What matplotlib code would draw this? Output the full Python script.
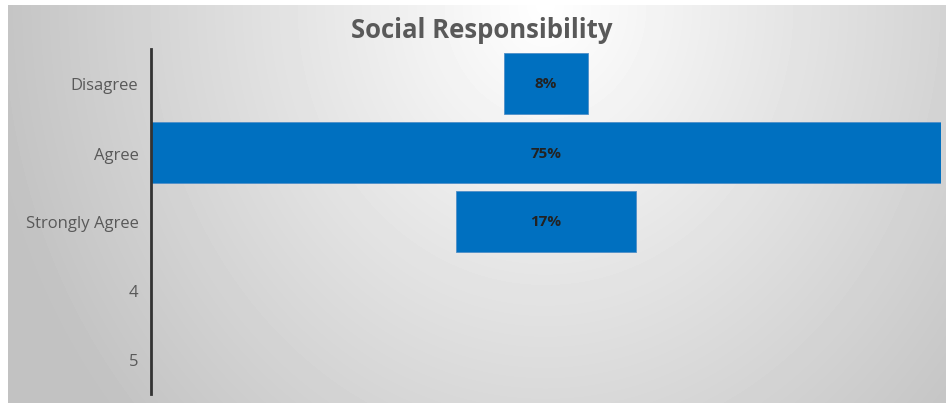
import numpy as np
import matplotlib.pyplot as plt

plt.rcParams['font.family'] = ['Open Sans', 'DejaVu Sans']

categories = ['Disagree', 'Agree', 'Strongly Agree', '4', '5']
values = [8, 75, 17, None, None]
labels = ['8%', '75%', '17%']

fig = plt.figure(figsize=(9.48, 4.06), dpi=100, facecolor='white')

# gradient background panel
bg = fig.add_axes([8/948, 2/406, 938/948, 398/406])
yy, xx = np.mgrid[0:398, 0:938]
d = np.sqrt(((xx - 537) / 2350) ** 2 + (yy / 2650) ** 2)
shade = np.clip(1.0 - d, 0.76, 1.0)
bg.imshow(shade, cmap='gray', vmin=0, vmax=1, aspect='auto', extent=[0, 1, 0, 1])
bg.axis('off')

ax = fig.add_axes([151/948, 1 - 395/406, 790/948, 345/406])
ax.patch.set_alpha(0)

for i, v in enumerate(values):
    if v is None:
        continue
    ax.barh(i, v, left=-v / 2, height=0.87, color='#0070C0', edgecolor='#4f8fc8', linewidth=0.6)
    ax.text(0, i, labels[i], ha='center', va='center', fontsize=11, fontweight='bold', color='#222222')

ax.set_xlim(-37.5, 37.5)
ax.set_ylim(4.5, -0.5)
ax.set_yticks(range(len(categories)))
ax.set_yticklabels(categories, fontsize=12, color='#595959')
ax.tick_params(axis='y', length=0, pad=9)
ax.set_xticks([])
for s in ['top', 'right', 'bottom']:
    ax.spines[s].set_visible(False)
ax.spines['left'].set_linewidth(2)
ax.spines['left'].set_color('#333333')

fig.text(482/948, 1 - 30/406, 'Social Responsibility', ha='center', va='center',
         fontsize=18.5, fontweight='bold', color='#595959')

fig.savefig('out.png', dpi=100)
